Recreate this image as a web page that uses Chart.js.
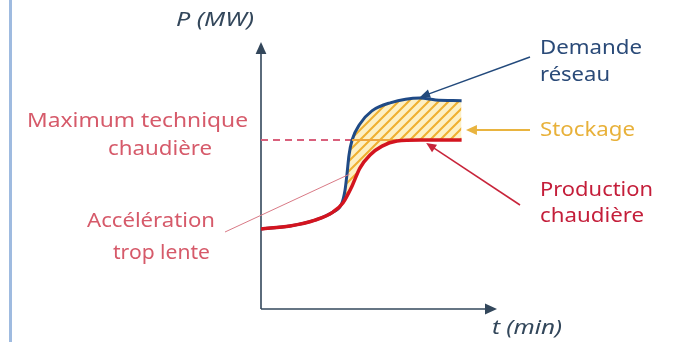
<!DOCTYPE html>
<html>
<head>
<meta charset="utf-8">
<script src="https://cdn.jsdelivr.net/npm/chart.js@4/dist/chart.umd.min.js"></script>
<style>
  html, body { margin: 0; padding: 0; background: #fff; }
  canvas { display: block; }
</style>
</head>
<body>
<canvas id="chart" width="675" height="342"></canvas>
<script>
// data (arbitrary units, axes have no ticks)
const timeDemande = [0, 12.3, 22.9, 30.5, 34.2, 35.6, 36.4, 37.3, 38.6, 41.9, 47, 54.7, 67.4, 74, 85];
const demande = [30, 31.1, 33.3, 36.3, 39.5, 44.5, 50.2, 57.7, 63.3, 69.3, 74.2, 77.2, 79, 78.3, 78];

const timeProduction = [0, 12.3, 22.9, 30.5, 34.7, 38.6, 41.9, 46.2, 51.3, 57.6, 67.4, 85];
const production = [30, 31.1, 33.3, 36.3, 39.7, 46.1, 52.8, 57.7, 61, 62.9, 63.3, 63.3];

const timeMaxTechnique = [0, 38.6];
const timeStockageEdge = [38.6, 57.6];
const maxTechnique = 63.3;

const toPoints = (xs, ys) => xs.map((x, i) => ({ x: x, y: ys[i] }));

function hatchPattern() {
    const c = document.createElement("canvas");
    c.width = 10;
    c.height = 10;
    const g = c.getContext("2d");
    g.fillStyle = "#fdf0c4";
    g.fillRect(0, 0, 10, 10);
    g.strokeStyle = "#efb030";
    g.lineWidth = 2;
    g.beginPath();
    g.moveTo(0, 10); g.lineTo(10, 0);
    g.moveTo(-5, 5); g.lineTo(5, -5);
    g.moveTo(5, 15); g.lineTo(15, 5);
    g.stroke();
    return g.createPattern(c, "repeat");
}

function arrowLine(ctx, x1, y1, x2, y2, color, width, head) {
    ctx.save();
    ctx.strokeStyle = color;
    ctx.fillStyle = color;
    ctx.lineWidth = width;
    const a = Math.atan2(y2 - y1, x2 - x1);
    ctx.beginPath();
    ctx.moveTo(x1, y1);
    ctx.lineTo(head ? x2 - Math.cos(a) * head * 0.8 : x2, head ? y2 - Math.sin(a) * head * 0.8 : y2);
    ctx.stroke();
    if (head) {
        ctx.beginPath();
        ctx.moveTo(x2, y2);
        ctx.lineTo(x2 - head * Math.cos(a) + head * 0.45 * Math.sin(a), y2 - head * Math.sin(a) - head * 0.45 * Math.cos(a));
        ctx.lineTo(x2 - head * Math.cos(a) - head * 0.45 * Math.sin(a), y2 - head * Math.sin(a) + head * 0.45 * Math.cos(a));
        ctx.closePath();
        ctx.fill();
    }
    ctx.restore();
}

// text stretched to the width it has in the picture
function text(ctx, str, x, y, w, color, italic) {
    ctx.save();
    ctx.font = (italic ? "italic " : "") + "20px 'Noto Sans', sans-serif";
    ctx.fillStyle = color;
    ctx.textBaseline = "middle";
    ctx.textAlign = "left";
    const m = ctx.measureText(str).width;
    ctx.translate(x, y);
    ctx.scale(w / m, 1);
    ctx.fillText(str, 0, 0);
    ctx.restore();
}

const decorations = {
    id: "decorations",
    beforeDraw(chart) {
        const ctx = chart.ctx;
        ctx.save();
        ctx.fillStyle = "#fff";
        ctx.fillRect(0, 0, chart.width, chart.height);
        ctx.fillStyle = "#9fbbe0";
        ctx.fillRect(9, 0, 3, chart.height);
        ctx.restore();
    },
    beforeDatasetsDraw(chart) {
        const ctx = chart.ctx;
        const a = chart.chartArea;
        const axis = "#33475b";
        arrowLine(ctx, a.left, a.bottom, a.left, a.top, axis, 1.6, 12);
        arrowLine(ctx, a.left, a.bottom, a.right, a.bottom, axis, 1.6, 12);
    },
    afterDraw(chart) {
        const ctx = chart.ctx;
        const xs = chart.scales.x, ys = chart.scales.y;
        const axis = "#33475b";

        text(ctx, "P (MW)", 176, 20, 78, axis, true);
        text(ctx, "t (min)", 492, 328, 70, axis, true);

        // Demande réseau
        arrowLine(ctx, 530, 57, xs.getPixelForValue(67.4), ys.getPixelForValue(79) - 1, "#234a7c", 1.5, 10);
        text(ctx, "Demande", 540, 48, 102, "#2a4a78");
        text(ctx, "réseau", 540, 75, 70, "#2a4a78");

        // Stockage
        arrowLine(ctx, 530, 130, xs.getPixelForValue(86) + 2, 130, "#e9b43f", 2, 11);
        text(ctx, "Stockage", 540, 130, 95, "#e8b13a");

        // Production chaudière
        arrowLine(ctx, 520, 205, xs.getPixelForValue(70), ys.getPixelForValue(maxTechnique) + 3, "#c8243a", 1.5, 10);
        text(ctx, "Production", 540, 190, 113, "#c41e3a");
        text(ctx, "chaudière", 540, 216, 104, "#c41e3a");

        // Maximum technique chaudière
        text(ctx, "Maximum technique", 27, 121, 221, "#d65a6a");
        text(ctx, "chaudière", 108, 149, 104, "#d65a6a");

        // Accélération trop lente
        arrowLine(ctx, 225, 232, xs.getPixelForValue(37.5), ys.getPixelForValue(50.5), "#d97a86", 1, 0);
        text(ctx, "Accélération", 87, 221, 128, "#d65a6a");
        text(ctx, "trop lente", 113, 253, 97, "#d65a6a");
    }
};

new Chart(document.getElementById("chart").getContext("2d"), {
    type: "line",
    data: {
        datasets: [
            {
                label: "Production chaudière",
                data: toPoints(timeProduction, production),
                borderColor: "#d3141f",
                borderWidth: 3.5,
                cubicInterpolationMode: "monotone",
                pointRadius: 0,
                fill: false,
            },
            {
                label: "Stockage",
                data: toPoints(timeStockageEdge, timeStockageEdge.map(() => maxTechnique)),
                borderColor: "#eea53c",
                borderWidth: 2,
                pointRadius: 0,
                fill: false,
            },
            {
                label: "Demande réseau",
                data: toPoints(timeDemande, demande),
                borderColor: "#1f4a86",
                borderWidth: 3,
                cubicInterpolationMode: "monotone",
                pointRadius: 0,
                fill: { target: 0, above: hatchPattern(), below: hatchPattern() },
            },
            {
                label: "Maximum technique chaudière",
                data: toPoints(timeMaxTechnique, timeMaxTechnique.map(() => maxTechnique)),
                borderColor: "#d9607c",
                borderWidth: 2,
                borderDash: [7, 5],
                pointRadius: 0,
                fill: false,
            },
        ],
    },
    options: {
        responsive: false,
        animation: false,
        layout: { padding: { left: 261, right: 178, top: 42, bottom: 33 } },
        plugins: {
            legend: { display: false },
            tooltip: { enabled: false },
        },
        scales: {
            x: { type: "linear", min: 0, max: 100, display: false },
            y: { min: 0, max: 100, display: false },
        },
    },
    plugins: [decorations],
});
</script>
</body>
</html>
